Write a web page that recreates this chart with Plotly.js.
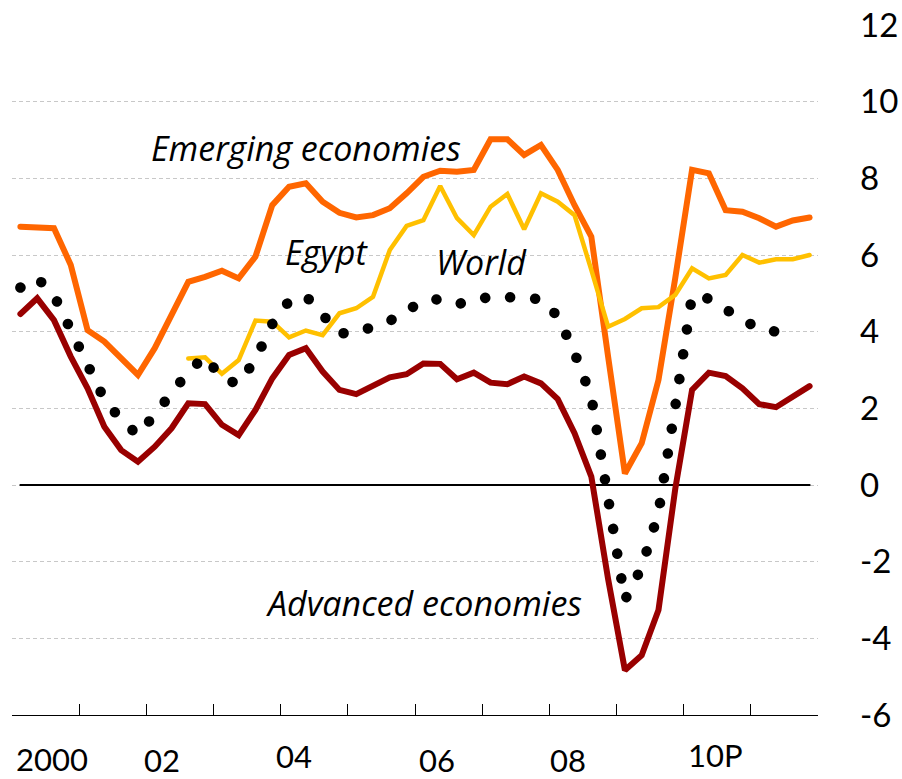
<!DOCTYPE html>
<html>
<head>
<meta charset="utf-8">
<script src="https://cdn.plot.ly/plotly-3.0.1.min.js"></script>
<style>
  html, body { margin: 0; padding: 0; background: #fff; }
  #chart { width: 902px; height: 779px; }
  .js-line { stroke-linecap: round; }
</style>
</head>
<body>
<div id="chart"></div>
<script>
// Quarterly observations, 2000Q1 .. 2011Q4
const years = [2000,2001,2002,2003,2004,2005,2006,2007,2008,2009,2010,2011];
const quarters = [];
years.forEach(y => { for (let q = 1; q <= 4; q++) quarters.push(y + 'Q' + q); });

const emerging = [6.74,6.72,6.70,5.74,4.04,3.74,3.30,2.87,3.57,4.43,5.30,5.43,
                  5.59,5.39,5.96,7.30,7.78,7.87,7.39,7.10,6.98,7.04,7.22,7.61,
                  8.04,8.20,8.17,8.22,9.02,9.02,8.61,8.87,8.22,7.30,6.48,3.35,
                  0.30,1.09,2.74,5.40,8.22,8.13,7.17,7.13,6.96,6.74,6.90,6.98];

const advanced = [4.46,4.87,4.30,3.35,2.52,1.52,0.91,0.61,1.00,1.48,2.13,2.11,
                  1.57,1.30,1.96,2.78,3.39,3.57,2.96,2.48,2.37,2.61,2.81,2.89,
                  3.17,3.16,2.76,2.93,2.67,2.63,2.83,2.65,2.24,1.35,0.22,-2.45,
                  -4.83,-4.44,-3.26,-0.10,2.48,2.93,2.84,2.52,2.11,2.03,2.30,2.58];

const world = [5.15,5.40,4.95,4.05,3.02,2.23,1.70,1.30,1.84,2.44,2.95,3.36,
               2.77,2.64,3.28,4.20,4.80,4.93,4.43,3.95,3.98,4.10,4.28,4.55,
               4.80,4.85,4.72,4.80,4.92,4.90,4.90,4.85,4.40,3.45,2.30,-0.48,
               -3.00,-2.15,-0.72,2.05,4.95,4.86,4.55,4.31,4.08,4.00,4.17];

const egypt = [null,null,null,null,null,null,null,null,null,null,
               3.30,3.33,2.90,3.26,4.29,4.26,3.85,4.03,3.91,4.48,4.61,4.91,
               6.13,6.76,6.91,7.80,6.96,6.52,7.26,7.59,6.67,7.61,7.39,7.04,
               5.61,4.13,4.33,4.61,4.64,4.96,5.65,5.39,5.48,6.00,5.80,5.89,
               5.89,6.00];

// zero reference line spanning the data period
const zeroLine = quarters.map(() => 0);

const yTicks = [-6,-4,-2,0,2,4,6,8,10,12];
const xLabels = ['2000','02','04','06','08','10P'];
// label positions (quarter index) and vertical offsets as drawn in the original
const xLabelPos = [1.91, 8.45, 16.3, 24.8, 32.6, 41.4];
const xLabelPy  = [759, 760, 756.5, 760, 760, 754.5];

const seriesNames = ['Emerging economies','Advanced economies','World','Egypt'];

const idx = quarters.map((q, i) => i);

// pixel helpers for text placement
const L = 12, R = 818, T = 25, B = 715;
const px2paperX = p => (p - L) / (R - L);
const px2paperY = p => (B - p) / (B - T);

const FONT = 'Lato, "Open Sans", sans-serif';
const IFONT = '"Open Sans", Lato, sans-serif';

const traces = [
  { x: idx, y: zeroLine, type: 'scatter', mode: 'lines', name: 'zero',
    line: { color: '#000000', width: 2 }, hoverinfo: 'skip' },
  { x: idx, y: advanced, type: 'scatter', mode: 'lines', name: seriesNames[1],
    line: { color: '#990000', width: 6 }, hoverinfo: 'x+y' },
  { x: idx, y: emerging, type: 'scatter', mode: 'lines', name: seriesNames[0],
    line: { color: '#FF6600', width: 6 }, hoverinfo: 'x+y' },
  { x: idx, y: egypt, type: 'scatter', mode: 'lines', name: seriesNames[3],
    line: { color: '#FFC000', width: 4.5 }, connectgaps: false, hoverinfo: 'x+y' },
  { x: idx.slice(0, world.length), y: world, type: 'scatter', mode: 'lines', name: seriesNames[2],
    line: { color: '#000000', width: 10.5, dash: '0.1px,25px' }, hoverinfo: 'x+y' }
];

const annotations = [
  { text: '<i>Emerging economies</i>', x: px2paperX(306), y: px2paperY(148) },
  { text: '<i>Egypt</i>', x: px2paperX(326.5), y: px2paperY(252) },
  { text: '<i>World</i>', x: px2paperX(481), y: px2paperY(261.5) },
  { text: '<i>Advanced economies</i>', x: px2paperX(424), y: px2paperY(603) }
].map(a => Object.assign({
  xref: 'paper', yref: 'paper', showarrow: false, xanchor: 'center', yanchor: 'middle',
  font: { family: IFONT, size: 34, color: '#000' }
}, a));

xLabels.forEach((t, k) => {
  annotations.push({
    text: t, xref: 'x', yref: 'paper', x: xLabelPos[k], y: px2paperY(xLabelPy[k]),
    showarrow: false, xanchor: 'center', yanchor: 'middle', borderpad: 0,
    font: { family: FONT, size: 31, color: '#000' }
  });
});

const yearBounds = years.map((y, k) => k * 4 - 0.5).concat([years.length * 4 - 0.5]);

const layout = {
  width: 902, height: 779,
  margin: { l: L, r: 902 - R, t: T, b: 779 - B, pad: 0 },
  paper_bgcolor: '#ffffff', plot_bgcolor: '#ffffff',
  showlegend: false,
  font: { family: FONT, color: '#000' },
  xaxis: {
    range: [-0.5, 47.5], showgrid: false, zeroline: false,
    tickmode: 'array', tickvals: yearBounds, ticktext: yearBounds.map(() => ''),
    ticks: 'inside', ticklen: 11, tickwidth: 1, tickcolor: '#000',
    showline: true, linecolor: '#000', linewidth: 1, showticklabels: false
  },
  yaxis: {
    side: 'right', range: [-6, 12], tickmode: 'array', tickvals: yTicks,
    ticktext: yTicks.map(String), ticks: '', showline: false, zeroline: false,
    showgrid: true, gridcolor: '#c8c8c8', gridwidth: 1, griddash: '4px,3px',
    ticklabelstandoff: 41,
    tickfont: { family: FONT, size: 33, color: '#000' }
  },
  annotations: annotations
};

Plotly.newPlot('chart', traces, layout, { displayModeBar: false, staticPlot: true });
</script>
</body>
</html>
